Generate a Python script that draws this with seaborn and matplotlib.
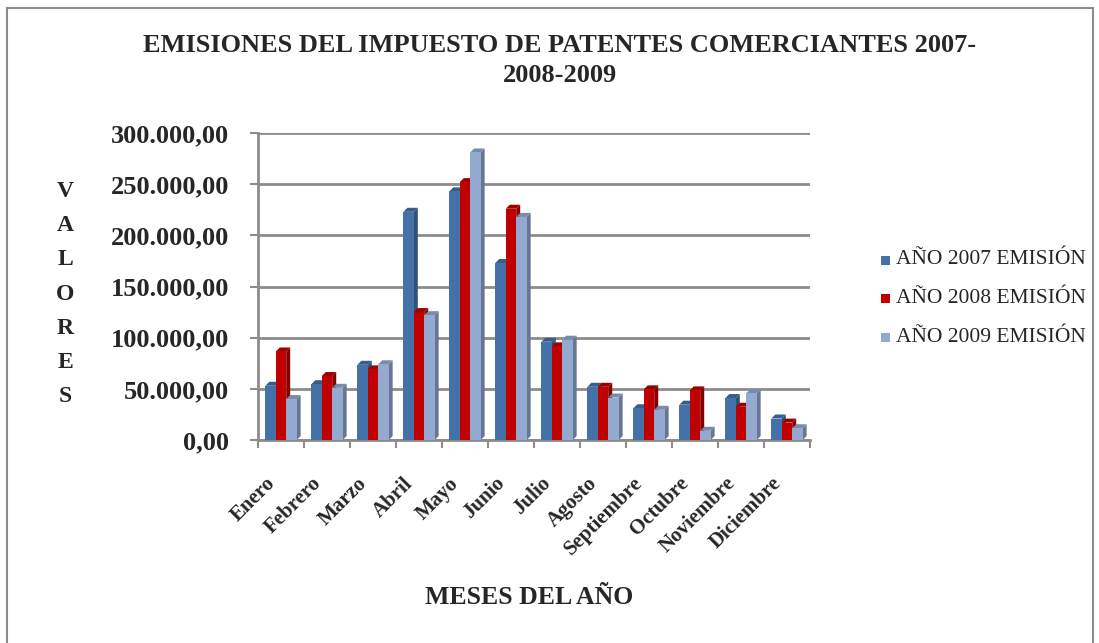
import numpy as np
import pandas as pd
import matplotlib
matplotlib.use("Agg")
import matplotlib.pyplot as plt
import seaborn as sns
from matplotlib.ticker import FuncFormatter, FixedLocator
from matplotlib.patches import Rectangle, Polygon
import matplotlib.colors as mcolors
import matplotlib.transforms as mtransforms

meses = ["Enero", "Febrero", "Marzo", "Abril", "Mayo", "Junio", "Julio",
         "Agosto", "Septiembre", "Octubre", "Noviembre", "Diciembre"]
serie_2007 = [53000, 54500, 73500, 223000, 243000, 173000, 96000, 52000, 31000, 34500, 41000, 21000]
serie_2008 = [86500, 62500, 69000, 125000, 252000, 226000, 91500, 52000, 49500, 48500, 32500, 17000]
serie_2009 = [40000, 51000, 74000, 122000, 281000, 218000, 98000, 41500, 29500, 9000, 45500, 11500]
series = ["AÑO 2007 EMISIÓN", "AÑO 2008 EMISIÓN", "AÑO 2009 EMISIÓN"]
colores = ["#4472A8", "#C00000", "#93A9D0"]
y_ticks = [0, 50000, 100000, 150000, 200000, 250000, 300000]

df = pd.DataFrame({
    "Mes": meses * 3,
    "Serie": [series[0]] * 12 + [series[1]] * 12 + [series[2]] * 12,
    "Valor": serie_2007 + serie_2008 + serie_2009,
})

sns.set_theme(style="white")
plt.rcParams["font.family"] = ["Liberation Serif", "DejaVu Serif"]

W, H = 1099, 643
fig = plt.figure(figsize=(10.99, 6.43), dpi=100)
ax = fig.add_axes([258 / W, 1 - 440 / H, (810 - 258) / W, (440 - 133) / H])

sns.barplot(data=df, x="Mes", y="Valor", hue="Serie", order=meses,
            hue_order=series, palette=colores, width=0.68, saturation=1,
            errorbar=None, ax=ax, legend=False, zorder=3)

ax.set_ylim(0, 300000)
ax.set_xlim(-0.5, 11.5)

# pseudo 3D faces derived from each bar
px_x = 12 / (810 - 258)        # data units per pixel in x
px_y = 300000 / (440 - 133)    # data units per pixel in y
dx, dy = 4 * px_x, 4 * px_y
for p in list(ax.patches):
    p.set_edgecolor("none")
    x0, w, h = p.get_x(), p.get_width(), p.get_height()
    if h <= 0:
        continue
    x1 = x0 + w
    rgb = np.array(mcolors.to_rgb(p.get_facecolor()))
    side = Polygon([(x1, 0), (x1 + dx, dy), (x1 + dx, h + dy), (x1, h)],
                   closed=True, facecolor=rgb * 0.7, edgecolor="none", zorder=2.9)
    top = Polygon([(x0, h), (x0 + dx, h + dy), (x1 + dx, h + dy), (x1, h)],
                  closed=True, facecolor=rgb * 0.82, edgecolor="none", zorder=2.9)
    ax.add_patch(side)
    ax.add_patch(top)

ax.yaxis.set_major_locator(FixedLocator(y_ticks))
ax.yaxis.set_major_formatter(FuncFormatter(
    lambda v, pos: f"{v:,.2f}".replace(",", "X").replace(".", ",").replace("X", ".")))
ax.grid(axis="y", color="#8C8C8C", linewidth=2, zorder=0)
ax.grid(axis="x", visible=False)
for side_name in ["top", "right"]:
    ax.spines[side_name].set_visible(False)
for side_name in ["left", "bottom"]:
    ax.spines[side_name].set_color("#8C8C8C")
    ax.spines[side_name].set_linewidth(2)

ax.tick_params(axis="y", which="major", length=6, width=1.5, color="#8C8C8C",
               left=True, pad=15, labelsize=19)
for lab in ax.get_yticklabels():
    lab.set_fontweight("bold")

ax.set_xticks(range(12))
ax.set_xticklabels(meses, rotation=45, ha="right", rotation_mode="anchor",
                   fontsize=15, fontweight="bold")
ax.tick_params(axis="x", which="major", length=0, pad=24)
shift = mtransforms.ScaledTranslation(-16 / 100, 0, fig.dpi_scale_trans)
for lab in ax.get_xticklabels():
    lab.set_transform(lab.get_transform() + shift)
ax.set_xticks(np.arange(-0.5, 12, 1), minor=True)
ax.tick_params(axis="x", which="minor", length=6, width=1.5, color="#8C8C8C", bottom=True)
ax.set_xlabel("")
ax.set_ylabel("")

fig.text(560 / W, 1 - 45 / H, "EMISIONES DEL IMPUESTO DE PATENTES COMERCIANTES 2007-",
         ha="center", va="center", fontsize=19, fontweight="bold")
fig.text(560 / W, 1 - 76 / H, "2008-2009", ha="center", va="center",
         fontsize=19, fontweight="bold")
fig.text(65 / W, 1 - 294 / H, "V\nA\nL\nO\nR\nE\nS", ha="center", va="center",
         fontsize=17, fontweight="bold", linespacing=1.82)
fig.text(529 / W, 1 - 598 / H, "MESES DEL AÑO", ha="center", va="center",
         fontsize=18.5, fontweight="bold")

# Legend
for i, (s, c) in enumerate(zip(series, colores)):
    yy = 1 - (260 + 38.5 * i) / H
    fig.patches.append(Rectangle((881 / W, yy - 4.5 / H), 9 / W, 9 / H,
                                 transform=fig.transFigure, facecolor=c, edgecolor="none"))
    fig.text(896 / W, yy, s, ha="left", va="center", fontsize=15.5)

# Chart border
fig.patches.append(Rectangle((7 / W, -0.01), 1086 / W, 1 - 8 / H + 0.01,
                             transform=fig.transFigure, facecolor="none",
                             edgecolor="#8C8C8C", linewidth=1.5))

fig.savefig("out.png", dpi=100)
